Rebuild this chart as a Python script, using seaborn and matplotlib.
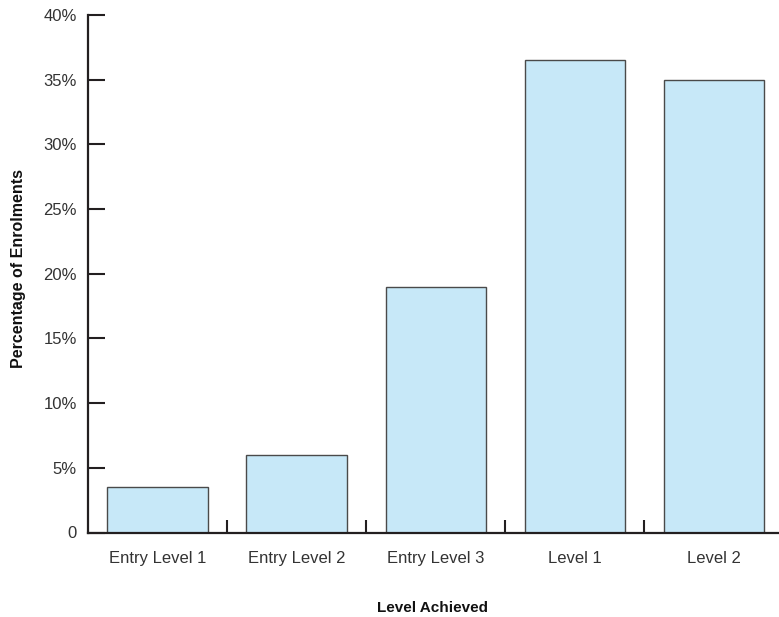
import matplotlib
matplotlib.use("Agg")
import matplotlib.pyplot as plt
import seaborn as sns
from matplotlib.ticker import FixedLocator

# Share of enrolments by level achieved (%)
levels = ["Entry Level 1", "Entry Level 2", "Entry Level 3", "Level 1", "Level 2"]
percent = [3.5, 6.0, 19.0, 36.5, 35.0]
y_ticks = [0, 5, 10, 15, 20, 25, 30, 35, 40]
y_tick_labels = ["0", "5%", "10%", "15%", "20%", "25%", "30%", "35%", "40%"]

sns.set_style("white")
plt.rcParams["font.family"] = ["Liberation Sans", "DejaVu Sans"]

fig = plt.figure(figsize=(7.79, 6.17), dpi=100)
ax = fig.add_axes([88 / 779, 1 - 532.5 / 617, 1 - 88 / 779, (532.5 - 15) / 617])

sns.barplot(x=levels, y=percent, ax=ax, color="#c7e8f8", saturation=1,
            width=0.72, edgecolor="#4a4a4a", linewidth=1.0)

ax.set_ylim(0, 40)
ax.set_xlim(-0.5, 4.47)
ax.set_yticks(y_ticks)
ax.set_yticklabels(y_tick_labels)

axis_col = "#231f20"
for side in ("top", "right"):
    ax.spines[side].set_visible(False)
for side in ("left", "bottom"):
    ax.spines[side].set_linewidth(1.6)
    ax.spines[side].set_color(axis_col)
    ax.spines[side].set_zorder(5)

ax.tick_params(axis="y", which="major", left=True, direction="in", length=12.5,
               width=1.5, color=axis_col, labelsize=12, labelcolor="#333333", pad=8)
ax.tick_params(axis="x", which="major", bottom=True, length=0, labelsize=12,
               labelcolor="#333333", pad=13)
ax.xaxis.set_minor_locator(FixedLocator([0.5, 1.5, 2.5, 3.5]))
ax.tick_params(axis="x", which="minor", bottom=True, direction="in", length=9.5,
               width=1.5, color=axis_col)

ax.set_xlabel("Level Achieved", fontsize=11, fontweight="bold", color="#111111")
ax.xaxis.set_label_coords(0.499, (532.5 - 608) / 517.5)
ax.xaxis.label.set_va("center")
ax.set_ylabel("Percentage of Enrolments", fontsize=11.5, fontweight="bold",
              color="#111111")
ax.yaxis.set_label_coords((19 - 88) / 691, (532.5 - 269) / 517.5)
ax.yaxis.label.set_va("center")

fig.savefig("out.png", dpi=100)
